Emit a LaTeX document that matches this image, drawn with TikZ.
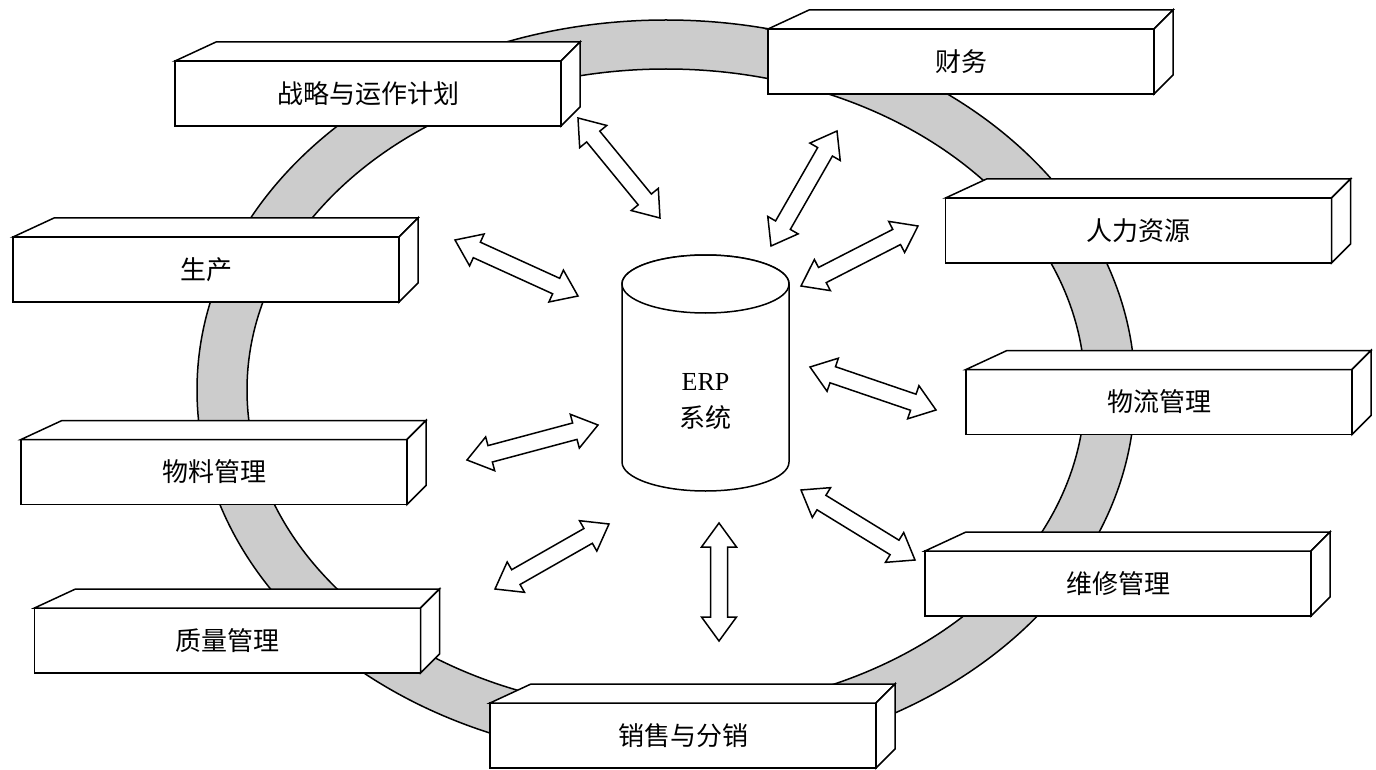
\documentclass[tikz,border=0pt]{standalone}
\usepackage{fontspec}
\setmainfont{Liberation Serif}
\newfontfamily\cjk{Noto Sans CJK SC}
\usetikzlibrary{calc}

\begin{document}
\begin{tikzpicture}[x=1pt,y=-1pt,line width=1.5pt,
  ring/.style={draw,fill=gray!40,even odd rule},
  mod/.style={draw,fill=white,minimum width=386pt,minimum height=65pt,inner sep=0pt,outer sep=0pt,font=\cjk\fontsize{26}{30}\selectfont},
  face/.style={draw,fill=white},
  blk/.style={draw,fill=white,to path={
    -- ($(\tikztostart)!24pt!(\tikztotarget)!17.5pt!90:(\tikztotarget)$)
    -- ($(\tikztostart)!24pt!(\tikztotarget)!8.5pt!90:(\tikztotarget)$)
    -- ($(\tikztotarget)!24pt!(\tikztostart)!8.5pt!-90:(\tikztostart)$)
    -- ($(\tikztotarget)!24pt!(\tikztostart)!17.5pt!-90:(\tikztostart)$)
    -- (\tikztotarget)
    -- ($(\tikztotarget)!24pt!(\tikztostart)!17.5pt!90:(\tikztostart)$)
    -- ($(\tikztotarget)!24pt!(\tikztostart)!8.5pt!90:(\tikztostart)$)
    -- ($(\tikztostart)!24pt!(\tikztotarget)!8.5pt!-90:(\tikztotarget)$)
    -- ($(\tikztostart)!24pt!(\tikztotarget)!17.5pt!-90:(\tikztotarget)$)
    -- cycle}}]
\useasboundingbox (0,0) rectangle (1376,770);
% the ring behind the modules
\path[ring] (666,390) ellipse [x radius=469,y radius=370] (666,390) ellipse [x radius=419,y radius=321];
% arrows between modules and the ERP database
\foreach \i/\sx/\sy/\tx/\ty in {1/578/118/660/218, 2/837/131/771/246, 3/918/226/801/286,
  4/455/240/578/296, 5/810/367/936/410, 6/467/460/598/425, 7/801/490/915/560,
  8/495/589/609/524, 9/719/523/719/641}{
  \coordinate (s\i) at (\sx,\sy);
  \coordinate (t\i) at (\tx,\ty);
  \draw[blk] (s\i) to (t\i);
}
% ERP database
\coordinate (dbtop) at (705.5,284);
\draw[fill=white] ([xshift=-83.5pt]dbtop) -- ++(0,178) arc[start angle=180,end angle=0,x radius=83.5,y radius=29]
  -- ([xshift=83.5pt]dbtop) arc[start angle=0,end angle=-180,x radius=83.5,y radius=29] -- cycle;
\draw[fill=white] (dbtop) ellipse [x radius=83.5,y radius=29];
\node[font=\fontsize{26}{37}\selectfont,align=center] (erp) at (705.5,401) {ERP\\{\cjk 系统}};
% modules
\node[mod] (plan) at (368,93.5) {战略与运作计划};
\node[mod] (fin) at (961,61.5) {财务};
\node[mod] (hr) at (1138.5,230.5) {人力资源};
\node[mod] (prod) at (206,269.5) {生产};
\node[mod] (logi) at (1159,402) {物流管理};
\node[mod] (mat) at (214,472) {物料管理};
\node[mod] (maint) at (1118,583.5) {维修管理};
\node[mod] (qual) at (227.5,640.5) {质量管理};
\node[mod] (sales) at (683,735.5) {销售与分销};
\foreach \m in {plan,fin,hr,prod,logi,mat,maint,qual,sales}{
  \draw[face] (\m.north west) -- ++(41,-19) -- ([shift={(19,-19)}]\m.north east) -- (\m.north east) -- cycle;
  \draw[face] (\m.north east) -- ++(19,-19) -- ([shift={(19,-19)}]\m.south east) -- (\m.south east) -- cycle;
}
\end{tikzpicture}
\end{document}
